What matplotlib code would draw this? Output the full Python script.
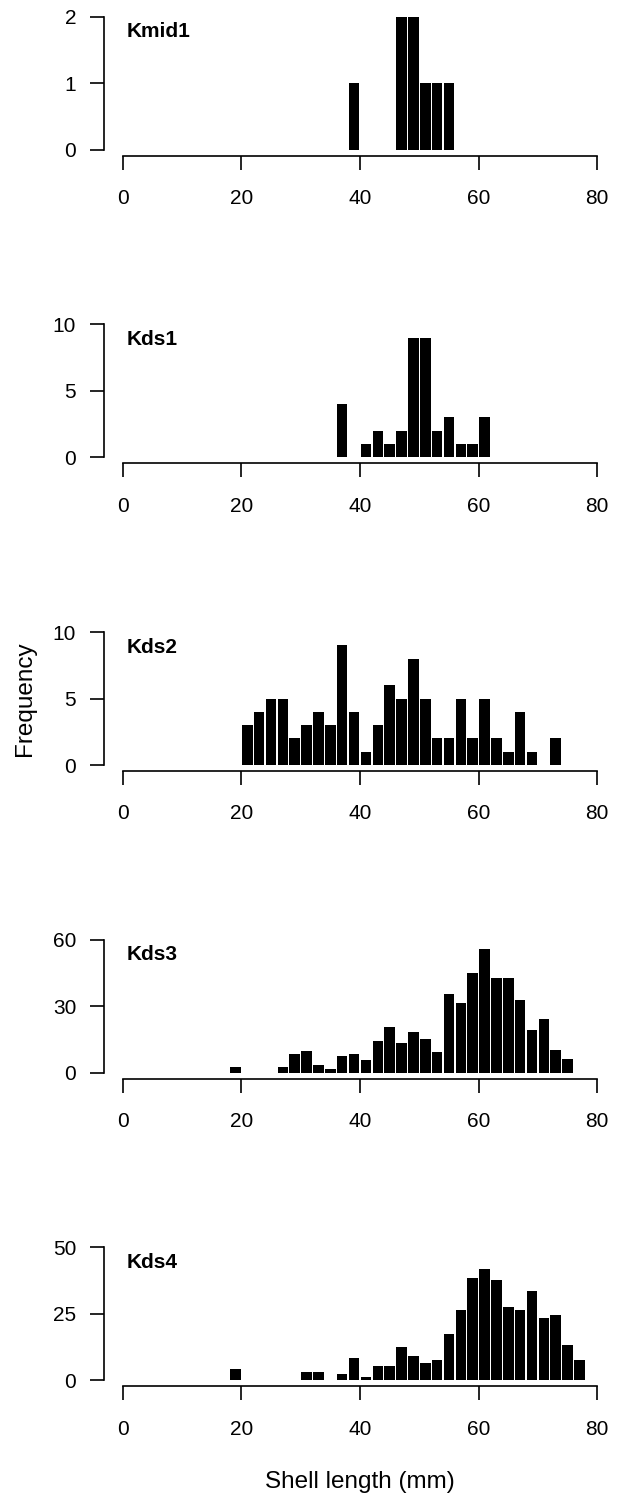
import matplotlib
matplotlib.use("Agg")
import matplotlib.pyplot as plt
import numpy as np

plt.rcParams['font.family'] = ['Liberation Sans', 'DejaVu Sans']

# Bin left edges (2 mm bins) and frequencies, per site
site_names = ["Kmid1", "Kds1", "Kds2", "Kds3", "Kds4"]

kmid1_bins = [38, 46, 48, 50, 52, 54]
kmid1_freq = [1, 2, 2, 1, 1, 1]

kds1_bins = [36, 40, 42, 44, 46, 48, 50, 52, 54, 56, 58, 60]
kds1_freq = [4, 1, 2, 1, 2, 9, 9, 2, 3, 1, 1, 3]

kds2_bins = [20, 22, 24, 26, 28, 30, 32, 34, 36, 38, 40, 42, 44, 46, 48, 50,
             52, 54, 56, 58, 60, 62, 64, 66, 68, 72]
kds2_freq = [3, 4, 5, 5, 2, 3, 4, 3, 9, 4, 1, 3, 6, 5, 8, 5,
             2, 2, 5, 2, 5, 2, 1, 4, 1, 2]

kds3_bins = [18, 26, 28, 30, 32, 34, 36, 38, 40, 42, 44, 46, 48, 50, 52, 54,
             56, 58, 60, 62, 64, 66, 68, 70, 72, 74]
kds3_freq = [2.4, 2.4, 8.4, 9.6, 3.6, 1.5, 7.4, 8.4, 5.6, 14.2, 20.5, 13.3,
             18.3, 15.2, 9.2, 35.3, 31.4, 44.8, 55.8, 42.5, 42.5, 32.6, 19.3,
             24.4, 10.3, 6.2]

kds4_bins = [18, 28, 30, 32, 34, 36, 38, 40, 42, 44, 46, 48, 50, 52, 54, 56,
             58, 60, 62, 64, 66, 68, 70, 72, 74, 76, 78]
kds4_freq = [4.3, 0.3, 3.3, 3.3, 0.3, 2.3, 8.4, 1.3, 5.4, 5.4, 12.4, 9.3, 6.4,
             7.5, 17.4, 26.6, 38.6, 41.7, 37.6, 27.6, 26.6, 33.5, 23.4, 24.4,
             13.4, 7.5, 0.3]

bins_all = [kmid1_bins, kds1_bins, kds2_bins, kds3_bins, kds4_bins]
freq_all = [kmid1_freq, kds1_freq, kds2_freq, kds3_freq, kds4_freq]
y_ticks = [[0, 1, 2], [0, 5, 10], [0, 5, 10], [0, 30, 60], [0, 25, 50]]
x_ticks = [0, 20, 40, 60, 80]
bin_width = 2

W, H = 620, 1494
fig = plt.figure(figsize=(W / 100, H / 100), dpi=100)

x0_px, x80_px = 122.7, 597.3
panel_h = 133.0
y0_first = 149.7
spacing = 307.65

for i in range(5):
    y0 = y0_first + spacing * i
    ax = fig.add_axes([x0_px / W, 1 - y0 / H, (x80_px - x0_px) / W, panel_h / H])
    b = np.array(bins_all[i]) + bin_width / 2
    ax.bar(b, freq_all[i], width=1.78, color='black', edgecolor='none', align='center')
    ymax = y_ticks[i][-1]
    ax.set_xlim(0, 80)
    ax.set_ylim(0, ymax)
    for s in ['top', 'right']:
        ax.spines[s].set_visible(False)
    ax.spines['left'].set_position(('outward', 13.5))
    ax.spines['bottom'].set_position(('outward', 4.3))
    ax.spines['left'].set_bounds(0, ymax)
    ax.spines['bottom'].set_bounds(0, 80)
    for s in ['left', 'bottom']:
        ax.spines[s].set_linewidth(1.2)
    ax.set_xticks(x_ticks)
    ax.set_yticks(y_ticks[i])
    ax.tick_params(axis='both', length=10, width=1.2, labelsize=15)
    ax.tick_params(axis='x', pad=14)
    ax.tick_params(axis='y', pad=10)
    ax.text(0.0085, 1 - 15 / panel_h, site_names[i], transform=ax.transAxes,
            fontsize=15, fontweight='bold', ha='left', va='center')

fig.text(25 / W, 1 - 699 / H, "Frequency", rotation=90, fontsize=17.5,
         ha='center', va='center')
fig.text(360 / W, 1 - 1482 / H, "Shell length (mm)", fontsize=17.5,
         ha='center', va='center')

fig.savefig("out.png", dpi=100)
